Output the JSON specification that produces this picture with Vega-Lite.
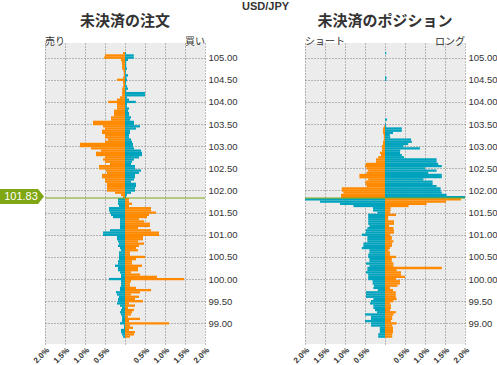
{
  "$schema": "https://vega.github.io/schema/vega-lite/v6.json",
  "background": "white",
  "padding": 0,
  "autosize": {"type": "pad"},
  "title": {"text": "USD/JPY", "font": "Liberation Sans", "fontSize": 11, "fontWeight": "bold", "color": "#333333", "anchor": "middle", "frame": "bounds", "dx": 17, "offset": 2},
  "spacing": 100,
  "bounds": "flush",
  "config": {
    "view": {"fill": "#ececec", "stroke": null},
    "axis": {"grid": true, "gridColor": "#7a7a7a", "gridOpacity": 1, "gridDash": [1, 2], "gridWidth": 1, "ticks": false, "domain": false, "labelFont": "Liberation Sans", "labelColor": "#333333", "labelOverlap": false, "labelBound": false},
    "axisX": {"labelOverlap": false, "labelFlush": false},
    "axisQuantitative": {"labelOverlap": false},
    "title": {"font": "Noto Sans CJK JP", "fontSize": 15, "fontWeight": "bold", "color": "#333333", "offset": 8}
  },
  "datasets": {
    "orders": [
      {"p":105.10,"v":-0.05,"k":"指値"},{"p":105.10,"v":0.025,"k":"逆指値"},
      {"p":105.05,"v":-0.5,"k":"指値"},{"p":105.05,"v":0.22,"k":"逆指値"},
      {"p":105.00,"v":-0.52,"k":"指値"},{"p":105.00,"v":0.22,"k":"逆指値"},
      {"p":104.95,"v":-0.1,"k":"指値"},{"p":104.95,"v":0.075,"k":"逆指値"},
      {"p":104.90,"v":-0.08,"k":"指値"},{"p":104.90,"v":0.03,"k":"逆指値"},
      {"p":104.85,"v":-0.075,"k":"指値"},{"p":104.85,"v":0.03,"k":"逆指値"},
      {"p":104.80,"v":-0.075,"k":"指値"},{"p":104.80,"v":0.03,"k":"逆指値"},
      {"p":104.75,"v":-0.07,"k":"指値"},{"p":104.75,"v":0.05,"k":"逆指値"},
      {"p":104.70,"v":-0.04,"k":"指値"},{"p":104.70,"v":0.02,"k":"逆指値"},
      {"p":104.65,"v":-0.03,"k":"指値"},{"p":104.65,"v":0.02,"k":"逆指値"},
      {"p":104.60,"v":-0.03,"k":"指値"},{"p":104.60,"v":0.075,"k":"逆指値"},
      {"p":104.55,"v":-0.05,"k":"指値"},{"p":104.55,"v":0.04,"k":"逆指値"},
      {"p":104.50,"v":-0.2,"k":"指値"},{"p":104.50,"v":0.05,"k":"逆指値"},
      {"p":104.45,"v":-0.05,"k":"指値"},{"p":104.45,"v":0.03,"k":"逆指値"},
      {"p":104.40,"v":-0.04,"k":"指値"},{"p":104.40,"v":0.02,"k":"逆指値"},
      {"p":104.35,"v":-0.05,"k":"指値"},{"p":104.35,"v":0.05,"k":"逆指値"},
      {"p":104.30,"v":-0.07,"k":"指値"},{"p":104.30,"v":0.075,"k":"逆指値"},
      {"p":104.25,"v":-0.07,"k":"指値"},{"p":104.25,"v":0.03,"k":"逆指値"},
      {"p":104.20,"v":-0.07,"k":"指値"},{"p":104.20,"v":0.5,"k":"逆指値"},
      {"p":104.15,"v":-0.07,"k":"指値"},{"p":104.15,"v":0.5,"k":"逆指値"},
      {"p":104.10,"v":-0.125,"k":"指値"},{"p":104.10,"v":0.05,"k":"逆指値"},
      {"p":104.05,"v":-0.2,"k":"指値"},{"p":104.05,"v":0.1,"k":"逆指値"},
      {"p":104.00,"v":-0.42,"k":"指値"},{"p":104.00,"v":0.27,"k":"逆指値"},
      {"p":103.95,"v":-0.2,"k":"指値"},{"p":103.95,"v":0.05,"k":"逆指値"},
      {"p":103.90,"v":-0.2,"k":"指値"},{"p":103.90,"v":0.05,"k":"逆指値"},
      {"p":103.85,"v":-0.2,"k":"指値"},{"p":103.85,"v":0.1,"k":"逆指値"},
      {"p":103.80,"v":-0.275,"k":"指値"},{"p":103.80,"v":0.075,"k":"逆指値"},
      {"p":103.75,"v":-0.275,"k":"指値"},{"p":103.75,"v":0.1,"k":"逆指値"},
      {"p":103.70,"v":-0.275,"k":"指値"},{"p":103.70,"v":0.1,"k":"逆指値"},
      {"p":103.65,"v":-0.35,"k":"指値"},{"p":103.65,"v":0.15,"k":"逆指値"},
      {"p":103.60,"v":-0.35,"k":"指値"},{"p":103.60,"v":0.125,"k":"逆指値"},
      {"p":103.55,"v":-0.8,"k":"指値"},{"p":103.55,"v":0.225,"k":"逆指値"},
      {"p":103.50,"v":-0.8,"k":"指値"},{"p":103.50,"v":0.225,"k":"逆指値"},
      {"p":103.45,"v":-0.55,"k":"指値"},{"p":103.45,"v":0.375,"k":"逆指値"},
      {"p":103.40,"v":-0.5,"k":"指値"},{"p":103.40,"v":0.275,"k":"逆指値"},
      {"p":103.35,"v":-0.575,"k":"指値"},{"p":103.35,"v":0.125,"k":"逆指値"},
      {"p":103.30,"v":-0.575,"k":"指値"},{"p":103.30,"v":0.125,"k":"逆指値"},
      {"p":103.25,"v":-0.5,"k":"指値"},{"p":103.25,"v":0.1,"k":"逆指値"},
      {"p":103.20,"v":-0.5,"k":"指値"},{"p":103.20,"v":0.1,"k":"逆指値"},
      {"p":103.15,"v":-0.425,"k":"指値"},{"p":103.15,"v":0.15,"k":"逆指値"},
      {"p":103.10,"v":-0.5,"k":"指値"},{"p":103.10,"v":0.175,"k":"逆指値"},
      {"p":103.05,"v":-1.125,"k":"指値"},{"p":103.05,"v":0.2,"k":"逆指値"},
      {"p":103.00,"v":-1.125,"k":"指値"},{"p":103.00,"v":0.2,"k":"逆指値"},
      {"p":102.95,"v":-0.85,"k":"指値"},{"p":102.95,"v":0.225,"k":"逆指値"},
      {"p":102.90,"v":-0.6,"k":"指値"},{"p":102.90,"v":0.4,"k":"逆指値"},
      {"p":102.85,"v":-0.725,"k":"指値"},{"p":102.85,"v":0.425,"k":"逆指値"},
      {"p":102.80,"v":-0.725,"k":"指値"},{"p":102.80,"v":0.425,"k":"逆指値"},
      {"p":102.75,"v":-0.5,"k":"指値"},{"p":102.75,"v":0.35,"k":"逆指値"},
      {"p":102.70,"v":-0.55,"k":"指値"},{"p":102.70,"v":0.225,"k":"逆指値"},
      {"p":102.65,"v":-0.5,"k":"指値"},{"p":102.65,"v":0.175,"k":"逆指値"},
      {"p":102.60,"v":-0.375,"k":"指値"},{"p":102.60,"v":0.15,"k":"逆指値"},
      {"p":102.55,"v":-0.65,"k":"指値"},{"p":102.55,"v":0.25,"k":"逆指値"},
      {"p":102.50,"v":-0.65,"k":"指値"},{"p":102.50,"v":0.25,"k":"逆指値"},
      {"p":102.45,"v":-0.475,"k":"指値"},{"p":102.45,"v":0.4,"k":"逆指値"},
      {"p":102.40,"v":-0.45,"k":"指値"},{"p":102.40,"v":0.35,"k":"逆指値"},
      {"p":102.35,"v":-0.575,"k":"指値"},{"p":102.35,"v":0.25,"k":"逆指値"},
      {"p":102.30,"v":-0.575,"k":"指値"},{"p":102.30,"v":0.25,"k":"逆指値"},
      {"p":102.25,"v":-0.5,"k":"指値"},{"p":102.25,"v":0.225,"k":"逆指値"},
      {"p":102.20,"v":-0.5,"k":"指値"},{"p":102.20,"v":0.15,"k":"逆指値"},
      {"p":102.15,"v":-0.45,"k":"指値"},{"p":102.15,"v":0.275,"k":"逆指値"},
      {"p":102.10,"v":-0.45,"k":"指値"},{"p":102.10,"v":0.275,"k":"逆指値"},
      {"p":102.05,"v":-0.45,"k":"指値"},{"p":102.05,"v":0.25,"k":"逆指値"},
      {"p":102.00,"v":-0.45,"k":"指値"},{"p":102.00,"v":0.25,"k":"逆指値"},
      {"p":101.95,"v":-0.25,"k":"指値"},{"p":101.95,"v":0.15,"k":"逆指値"},
      {"p":101.90,"v":-0.1,"k":"指値"},{"p":101.90,"v":0.05,"k":"逆指値"},
      {"p":101.85,"v":-0.05,"k":"指値"},{"p":101.85,"v":0.03,"k":"逆指値"},
      {"p":101.80,"v":-0.175,"k":"逆指値"},{"p":101.80,"v":0.1,"k":"指値"},
      {"p":101.75,"v":-0.175,"k":"逆指値"},{"p":101.75,"v":0.1,"k":"指値"},
      {"p":101.70,"v":-0.175,"k":"逆指値"},{"p":101.70,"v":0.175,"k":"指値"},
      {"p":101.65,"v":-0.15,"k":"逆指値"},{"p":101.65,"v":0.1,"k":"指値"},
      {"p":101.60,"v":-0.4,"k":"逆指値"},{"p":101.60,"v":0.65,"k":"指値"},
      {"p":101.55,"v":-0.4,"k":"逆指値"},{"p":101.55,"v":0.65,"k":"指値"},
      {"p":101.50,"v":-0.375,"k":"逆指値"},{"p":101.50,"v":0.775,"k":"指値"},
      {"p":101.45,"v":-0.35,"k":"逆指値"},{"p":101.45,"v":0.6,"k":"指値"},
      {"p":101.40,"v":-0.3,"k":"逆指値"},{"p":101.40,"v":0.55,"k":"指値"},
      {"p":101.35,"v":-0.125,"k":"逆指値"},{"p":101.35,"v":0.35,"k":"指値"},
      {"p":101.30,"v":-0.125,"k":"逆指値"},{"p":101.30,"v":0.475,"k":"指値"},
      {"p":101.25,"v":-0.125,"k":"逆指値"},{"p":101.25,"v":0.625,"k":"指値"},
      {"p":101.20,"v":-0.125,"k":"逆指値"},{"p":101.20,"v":0.625,"k":"指値"},
      {"p":101.15,"v":-0.125,"k":"逆指値"},{"p":101.15,"v":0.325,"k":"指値"},
      {"p":101.10,"v":-0.375,"k":"逆指値"},{"p":101.10,"v":0.65,"k":"指値"},
      {"p":101.05,"v":-0.55,"k":"逆指値"},{"p":101.05,"v":0.85,"k":"指値"},
      {"p":101.00,"v":-0.55,"k":"逆指値"},{"p":101.00,"v":0.85,"k":"指値"},
      {"p":100.95,"v":-0.2,"k":"逆指値"},{"p":100.95,"v":0.45,"k":"指値"},
      {"p":100.90,"v":-0.2,"k":"逆指値"},{"p":100.90,"v":0.45,"k":"指値"},
      {"p":100.85,"v":-0.175,"k":"逆指値"},{"p":100.85,"v":0.325,"k":"指値"},
      {"p":100.80,"v":-0.15,"k":"逆指値"},{"p":100.80,"v":0.475,"k":"指値"},
      {"p":100.75,"v":-0.175,"k":"逆指値"},{"p":100.75,"v":0.35,"k":"指値"},
      {"p":100.70,"v":-0.125,"k":"逆指値"},{"p":100.70,"v":0.275,"k":"指値"},
      {"p":100.65,"v":-0.1,"k":"逆指値"},{"p":100.65,"v":0.325,"k":"指値"},
      {"p":100.60,"v":-0.15,"k":"逆指値"},{"p":100.60,"v":0.125,"k":"指値"},
      {"p":100.55,"v":-0.15,"k":"逆指値"},{"p":100.55,"v":0.125,"k":"指値"},
      {"p":100.50,"v":-0.15,"k":"逆指値"},{"p":100.50,"v":0.5,"k":"指値"},
      {"p":100.45,"v":-0.15,"k":"逆指値"},{"p":100.45,"v":0.275,"k":"指値"},
      {"p":100.40,"v":-0.175,"k":"逆指値"},{"p":100.40,"v":0.175,"k":"指値"},
      {"p":100.35,"v":-0.175,"k":"逆指値"},{"p":100.35,"v":0.175,"k":"指値"},
      {"p":100.30,"v":-0.25,"k":"逆指値"},{"p":100.30,"v":0.425,"k":"指値"},
      {"p":100.25,"v":-0.175,"k":"逆指値"},{"p":100.25,"v":0.325,"k":"指値"},
      {"p":100.20,"v":-0.175,"k":"逆指値"},{"p":100.20,"v":0.325,"k":"指値"},
      {"p":100.15,"v":-0.125,"k":"逆指値"},{"p":100.15,"v":0.15,"k":"指値"},
      {"p":100.10,"v":-0.1,"k":"逆指値"},{"p":100.10,"v":0.375,"k":"指値"},
      {"p":100.05,"v":-0.1,"k":"逆指値"},{"p":100.05,"v":0.8,"k":"指値"},
      {"p":100.00,"v":-0.4,"k":"逆指値"},{"p":100.00,"v":1.475,"k":"指値"},
      {"p":99.95,"v":-0.1,"k":"逆指値"},{"p":99.95,"v":0.15,"k":"指値"},
      {"p":99.90,"v":-0.1,"k":"逆指値"},{"p":99.90,"v":0.125,"k":"指値"},
      {"p":99.85,"v":-0.1,"k":"逆指値"},{"p":99.85,"v":0.125,"k":"指値"},
      {"p":99.80,"v":-0.125,"k":"逆指値"},{"p":99.80,"v":0.275,"k":"指値"},
      {"p":99.75,"v":-0.125,"k":"逆指値"},{"p":99.75,"v":0.65,"k":"指値"},
      {"p":99.70,"v":-0.225,"k":"逆指値"},{"p":99.70,"v":0.375,"k":"指値"},
      {"p":99.65,"v":-0.2,"k":"逆指値"},{"p":99.65,"v":0.15,"k":"指値"},
      {"p":99.60,"v":-0.15,"k":"逆指値"},{"p":99.60,"v":0.35,"k":"指値"},
      {"p":99.55,"v":-0.175,"k":"逆指値"},{"p":99.55,"v":0.25,"k":"指値"},
      {"p":99.50,"v":-0.175,"k":"逆指値"},{"p":99.50,"v":0.45,"k":"指値"},
      {"p":99.45,"v":-0.2,"k":"逆指値"},{"p":99.45,"v":0.1,"k":"指値"},
      {"p":99.40,"v":-0.125,"k":"逆指値"},{"p":99.40,"v":0.25,"k":"指値"},
      {"p":99.35,"v":-0.075,"k":"逆指値"},{"p":99.35,"v":0.075,"k":"指値"},
      {"p":99.30,"v":-0.1,"k":"逆指値"},{"p":99.30,"v":0.225,"k":"指値"},
      {"p":99.25,"v":-0.125,"k":"逆指値"},{"p":99.25,"v":0.175,"k":"指値"},
      {"p":99.20,"v":-0.1,"k":"逆指値"},{"p":99.20,"v":0.15,"k":"指値"},
      {"p":99.15,"v":-0.075,"k":"逆指値"},{"p":99.15,"v":0.075,"k":"指値"},
      {"p":99.10,"v":-0.075,"k":"逆指値"},{"p":99.10,"v":0.375,"k":"指値"},
      {"p":99.05,"v":-0.075,"k":"逆指値"},{"p":99.05,"v":0.1,"k":"指値"},
      {"p":99.00,"v":-0.125,"k":"逆指値"},{"p":99.00,"v":1.1,"k":"指値"},
      {"p":98.95,"v":-0.025,"k":"逆指値"},{"p":98.95,"v":0.125,"k":"指値"},
      {"p":98.90,"v":-0.025,"k":"逆指値"},{"p":98.90,"v":0.2,"k":"指値"},
      {"p":98.85,"v":-0.1,"k":"逆指値"},{"p":98.85,"v":0.1,"k":"指値"},
      {"p":98.80,"v":-0.1,"k":"逆指値"},{"p":98.80,"v":0.25,"k":"指値"},
      {"p":98.75,"v":-0.075,"k":"逆指値"},{"p":98.75,"v":0.225,"k":"指値"},
      {"p":98.70,"v":-0.05,"k":"逆指値"},{"p":98.70,"v":0.125,"k":"指値"}
    ],
    "positions": [
      {"p":105.10,"v":0.03,"k":"含み損"},
      {"p":104.55,"v":0.04,"k":"含み損"},
      {"p":104.50,"v":0.03,"k":"含み損"},
      {"p":103.60,"v":0.05,"k":"含み損"},
      {"p":103.50,"v":0.02,"k":"含み損"},
      {"p":103.45,"v":-0.02,"k":"含み益"},{"p":103.45,"v":0.03,"k":"含み損"},
      {"p":103.40,"v":-0.05,"k":"含み益"},{"p":103.40,"v":0.42,"k":"含み損"},
      {"p":103.35,"v":-0.05,"k":"含み益"},{"p":103.35,"v":0.42,"k":"含み損"},
      {"p":103.30,"v":-0.05,"k":"含み益"},{"p":103.30,"v":0.2,"k":"含み損"},
      {"p":103.25,"v":-0.03,"k":"含み益"},{"p":103.25,"v":0.12,"k":"含み損"},
      {"p":103.20,"v":-0.03,"k":"含み益"},{"p":103.20,"v":0.13,"k":"含み損"},
      {"p":103.15,"v":-0.03,"k":"含み益"},{"p":103.15,"v":0.65,"k":"含み損"},
      {"p":103.10,"v":-0.05,"k":"含み益"},{"p":103.10,"v":0.67,"k":"含み損"},
      {"p":103.05,"v":-0.05,"k":"含み益"},{"p":103.05,"v":0.58,"k":"含み損"},
      {"p":103.00,"v":-0.075,"k":"含み益"},{"p":103.00,"v":0.46,"k":"含み損"},
      {"p":102.95,"v":-0.075,"k":"含み益"},{"p":102.95,"v":0.875,"k":"含み損"},
      {"p":102.90,"v":-0.075,"k":"含み益"},{"p":102.90,"v":0.38,"k":"含み損"},
      {"p":102.85,"v":-0.125,"k":"含み益"},{"p":102.85,"v":0.375,"k":"含み損"},
      {"p":102.80,"v":-0.1,"k":"含み益"},{"p":102.80,"v":0.42,"k":"含み損"},
      {"p":102.75,"v":-0.17,"k":"含み益"},{"p":102.75,"v":0.475,"k":"含み損"},
      {"p":102.70,"v":-0.225,"k":"含み益"},{"p":102.70,"v":1.29,"k":"含み損"},
      {"p":102.65,"v":-0.225,"k":"含み益"},{"p":102.65,"v":1.29,"k":"含み損"},
      {"p":102.60,"v":-0.475,"k":"含み益"},{"p":102.60,"v":1.33,"k":"含み損"},
      {"p":102.55,"v":-0.5,"k":"含み益"},{"p":102.55,"v":1.42,"k":"含み損"},
      {"p":102.50,"v":-0.46,"k":"含み益"},{"p":102.50,"v":1.0,"k":"含み損"},
      {"p":102.45,"v":-0.42,"k":"含み益"},{"p":102.45,"v":1.29,"k":"含み損"},
      {"p":102.40,"v":-0.46,"k":"含み益"},{"p":102.40,"v":1.08,"k":"含み損"},
      {"p":102.35,"v":-0.64,"k":"含み益"},{"p":102.35,"v":1.42,"k":"含み損"},
      {"p":102.30,"v":-0.64,"k":"含み益"},{"p":102.30,"v":1.42,"k":"含み損"},
      {"p":102.25,"v":-0.42,"k":"含み益"},{"p":102.25,"v":0.96,"k":"含み損"},
      {"p":102.20,"v":-0.49,"k":"含み益"},{"p":102.20,"v":1.19,"k":"含み損"},
      {"p":102.15,"v":-0.49,"k":"含み益"},{"p":102.15,"v":1.19,"k":"含み損"},
      {"p":102.10,"v":-0.46,"k":"含み益"},{"p":102.10,"v":1.29,"k":"含み損"},
      {"p":102.05,"v":-1.08,"k":"含み益"},{"p":102.05,"v":1.39,"k":"含み損"},
      {"p":102.00,"v":-1.08,"k":"含み益"},{"p":102.00,"v":1.39,"k":"含み損"},
      {"p":101.95,"v":-1.04,"k":"含み益"},{"p":101.95,"v":1.42,"k":"含み損"},
      {"p":101.90,"v":-1.1,"k":"含み益"},{"p":101.90,"v":1.54,"k":"含み損"},
      {"p":101.85,"v":-1.1,"k":"含み益"},{"p":101.85,"v":2.0,"k":"含み損"},
      {"p":101.80,"v":-2.0,"k":"含み損"},{"p":101.80,"v":1.9,"k":"含み益"},
      {"p":101.75,"v":-1.625,"k":"含み損"},{"p":101.75,"v":1.525,"k":"含み益"},
      {"p":101.70,"v":-1.125,"k":"含み損"},{"p":101.70,"v":1.04,"k":"含み益"},
      {"p":101.65,"v":-0.79,"k":"含み損"},{"p":101.65,"v":0.59,"k":"含み益"},
      {"p":101.60,"v":-0.3,"k":"含み損"},{"p":101.60,"v":0.14,"k":"含み益"},
      {"p":101.55,"v":-0.3,"k":"含み損"},{"p":101.55,"v":0.14,"k":"含み益"},
      {"p":101.50,"v":-0.19,"k":"含み損"},{"p":101.50,"v":0.125,"k":"含み益"},
      {"p":101.45,"v":-0.42,"k":"含み損"},{"p":101.45,"v":0.275,"k":"含み益"},
      {"p":101.40,"v":-0.42,"k":"含み損"},{"p":101.40,"v":0.08,"k":"含み益"},
      {"p":101.35,"v":-0.42,"k":"含み損"},{"p":101.35,"v":0.08,"k":"含み益"},
      {"p":101.30,"v":-0.42,"k":"含み損"},{"p":101.30,"v":0.225,"k":"含み益"},
      {"p":101.25,"v":-0.42,"k":"含み損"},{"p":101.25,"v":0.225,"k":"含み益"},
      {"p":101.20,"v":-0.39,"k":"含み損"},{"p":101.20,"v":0.1,"k":"含み益"},
      {"p":101.15,"v":-0.44,"k":"含み損"},{"p":101.15,"v":0.21,"k":"含み益"},
      {"p":101.10,"v":-0.48,"k":"含み損"},{"p":101.10,"v":0.225,"k":"含み益"},
      {"p":101.05,"v":-0.48,"k":"含み損"},{"p":101.05,"v":0.225,"k":"含み益"},
      {"p":101.00,"v":-0.58,"k":"含み損"},{"p":101.00,"v":0.125,"k":"含み益"},
      {"p":100.95,"v":-0.44,"k":"含み損"},{"p":100.95,"v":0.17,"k":"含み益"},
      {"p":100.90,"v":-0.44,"k":"含み損"},{"p":100.90,"v":0.17,"k":"含み益"},
      {"p":100.85,"v":-0.44,"k":"含み損"},{"p":100.85,"v":0.21,"k":"含み益"},
      {"p":100.80,"v":-0.54,"k":"含み損"},{"p":100.80,"v":0.175,"k":"含み益"},
      {"p":100.75,"v":-0.54,"k":"含み損"},{"p":100.75,"v":0.175,"k":"含み益"},
      {"p":100.70,"v":-0.58,"k":"含み損"},{"p":100.70,"v":0.125,"k":"含み益"},
      {"p":100.65,"v":-0.39,"k":"含み損"},{"p":100.65,"v":0.09,"k":"含み益"},
      {"p":100.60,"v":-0.39,"k":"含み損"},{"p":100.60,"v":0.125,"k":"含み益"},
      {"p":100.55,"v":-0.42,"k":"含み損"},{"p":100.55,"v":0.125,"k":"含み益"},
      {"p":100.50,"v":-0.42,"k":"含み損"},{"p":100.50,"v":0.275,"k":"含み益"},
      {"p":100.45,"v":-0.39,"k":"含み損"},{"p":100.45,"v":0.17,"k":"含み益"},
      {"p":100.40,"v":-0.39,"k":"含み損"},{"p":100.40,"v":0.17,"k":"含み益"},
      {"p":100.35,"v":-0.475,"k":"含み損"},{"p":100.35,"v":0.21,"k":"含み益"},
      {"p":100.30,"v":-0.39,"k":"含み損"},{"p":100.30,"v":0.21,"k":"含み益"},
      {"p":100.25,"v":-0.44,"k":"含み損"},{"p":100.25,"v":1.42,"k":"含み益"},
      {"p":100.20,"v":-0.44,"k":"含み損"},{"p":100.20,"v":0.29,"k":"含み益"},
      {"p":100.15,"v":-0.475,"k":"含み損"},{"p":100.15,"v":0.4,"k":"含み益"},
      {"p":100.10,"v":-0.42,"k":"含み損"},{"p":100.10,"v":0.4,"k":"含み益"},
      {"p":100.05,"v":-0.42,"k":"含み損"},{"p":100.05,"v":0.5,"k":"含み益"},
      {"p":100.00,"v":-0.42,"k":"含み損"},{"p":100.00,"v":0.275,"k":"含み益"},
      {"p":99.95,"v":-0.31,"k":"含み損"},{"p":99.95,"v":0.375,"k":"含み益"},
      {"p":99.90,"v":-0.31,"k":"含み損"},{"p":99.90,"v":0.375,"k":"含み益"},
      {"p":99.85,"v":-0.275,"k":"含み損"},{"p":99.85,"v":0.31,"k":"含み益"},
      {"p":99.80,"v":-0.29,"k":"含み損"},{"p":99.80,"v":0.125,"k":"含み益"},
      {"p":99.75,"v":-0.18,"k":"含み損"},{"p":99.75,"v":0.2,"k":"含み益"},
      {"p":99.70,"v":-0.475,"k":"含み損"},{"p":99.70,"v":0.27,"k":"含み益"},
      {"p":99.65,"v":-0.475,"k":"含み損"},{"p":99.65,"v":0.27,"k":"含み益"},
      {"p":99.60,"v":-0.475,"k":"含み損"},{"p":99.60,"v":0.27,"k":"含み益"},
      {"p":99.55,"v":-0.29,"k":"含み損"},{"p":99.55,"v":0.29,"k":"含み益"},
      {"p":99.50,"v":-0.35,"k":"含み損"},{"p":99.50,"v":0.21,"k":"含み益"},
      {"p":99.45,"v":-0.375,"k":"含み損"},{"p":99.45,"v":0.13,"k":"含み益"},
      {"p":99.40,"v":-0.29,"k":"含み損"},{"p":99.40,"v":0.15,"k":"含み益"},
      {"p":99.35,"v":-0.29,"k":"含み損"},{"p":99.35,"v":0.15,"k":"含み益"},
      {"p":99.30,"v":-0.25,"k":"含み損"},{"p":99.30,"v":0.125,"k":"含み益"},
      {"p":99.25,"v":-0.2,"k":"含み損"},{"p":99.25,"v":0.27,"k":"含み益"},
      {"p":99.20,"v":-0.5,"k":"含み損"},{"p":99.20,"v":0.21,"k":"含み益"},
      {"p":99.15,"v":-0.35,"k":"含み損"},{"p":99.15,"v":0.18,"k":"含み益"},
      {"p":99.10,"v":-0.35,"k":"含み損"},{"p":99.10,"v":0.18,"k":"含み益"},
      {"p":99.05,"v":-0.5,"k":"含み損"},{"p":99.05,"v":0.15,"k":"含み益"},
      {"p":99.00,"v":-0.35,"k":"含み損"},{"p":99.00,"v":0.29,"k":"含み益"},
      {"p":98.95,"v":-0.35,"k":"含み損"},{"p":98.95,"v":0.18,"k":"含み益"},
      {"p":98.90,"v":-0.13,"k":"含み損"},{"p":98.90,"v":0.2,"k":"含み益"},
      {"p":98.85,"v":-0.13,"k":"含み損"},{"p":98.85,"v":0.2,"k":"含み益"},
      {"p":98.80,"v":-0.13,"k":"含み損"},{"p":98.80,"v":0.2,"k":"含み益"},
      {"p":98.75,"v":-0.17,"k":"含み損"},{"p":98.75,"v":0.18,"k":"含み益"},
      {"p":98.70,"v":-0.17,"k":"含み損"},{"p":98.70,"v":0.18,"k":"含み益"}
    ]
  },
  "hconcat": [
    {
      "width": 160,
      "height": 301,
      "title": {"text": "未決済の注文"},
      "layer": [
        {
          "data": {"name": "orders"},
          "mark": {"type": "bar", "orient": "horizontal", "height": 2.3},
          "encoding": {
            "y": {"field": "p", "type": "quantitative", "scale": {"domain": [98.646, 105.218], "nice": false, "zero": false},
                  "axis": {"orient": "right", "values": [99, 99.5, 100, 100.5, 101, 101.5, 102, 102.5, 103, 103.5, 104, 104.5, 105], "format": ".2f", "labelFontSize": 9.5, "labelPadding": 3, "labelOverlap": false, "title": null}},
            "x": {"field": "v", "type": "quantitative", "scale": {"domain": [-2, 2], "nice": false},
                  "axis": {"orient": "bottom", "values": [-2, -1.5, -1, -0.5, 0, 0.5, 1, 1.5, 2], "labelExpr": "datum.value == 0 ? '' : format(abs(datum.value), '.1f') + '%'", "labelAngle": -45, "labelFontSize": 8, "labelFontWeight": "bold", "labelPadding": 2, "labelOverlap": false, "labelFlush": false, "title": null}},
            "x2": {"datum": 0},
            "color": {"field": "k", "type": "nominal", "scale": {"domain": ["指値", "逆指値", "含み益", "含み損"], "range": ["#ff8a00", "#00a3bd", "#ff8a00", "#00a3bd"]}, "legend": null}
          }
        },
        {
          "data": {"values": [{}]},
          "mark": {"type": "rule", "color": "#7fa614", "strokeWidth": 1},
          "encoding": {"y": {"datum": 101.83, "type": "quantitative", "axis": {"orient": "right", "values": [99, 99.5, 100, 100.5, 101, 101.5, 102, 102.5, 103, 103.5, 104, 104.5, 105], "format": ".2f", "labelFontSize": 9.5, "labelPadding": 3, "labelOverlap": false, "title": null}}}
        },
        {
          "data": {"values": [{}]},
          "mark": {"type": "point", "shape": "M-45,-9L-7,-9L-1,-1.5L-7,6L-45,6Z", "size": 4, "filled": true, "color": "#7fa614", "opacity": 1, "strokeWidth": 0},
          "encoding": {
            "x": {"datum": -2, "type": "quantitative", "axis": {"orient": "bottom", "values": [-2, -1.5, -1, -0.5, 0, 0.5, 1, 1.5, 2], "labelExpr": "datum.value == 0 ? '' : format(abs(datum.value), '.1f') + '%'", "labelAngle": -45, "labelFontSize": 8, "labelFontWeight": "bold", "labelPadding": 2, "labelOverlap": false, "labelFlush": false, "title": null}},
            "y": {"datum": 101.83, "type": "quantitative", "axis": {"orient": "right", "values": [99, 99.5, 100, 100.5, 101, 101.5, 102, 102.5, 103, 103.5, 104, 104.5, 105], "format": ".2f", "labelFontSize": 9.5, "labelPadding": 3, "labelOverlap": false, "title": null}}
          }
        },
        {
          "data": {"values": [{}]},
          "mark": {"type": "text", "text": "101.83", "dx": -24, "dy": -1.5, "color": "white", "font": "Liberation Sans", "fontSize": 11, "align": "center", "baseline": "middle"},
          "encoding": {
            "x": {"datum": -2, "type": "quantitative", "axis": {"orient": "bottom", "values": [-2, -1.5, -1, -0.5, 0, 0.5, 1, 1.5, 2], "labelExpr": "datum.value == 0 ? '' : format(abs(datum.value), '.1f') + '%'", "labelAngle": -45, "labelFontSize": 8, "labelFontWeight": "bold", "labelPadding": 2, "labelOverlap": false, "labelFlush": false, "title": null}},
            "y": {"datum": 101.83, "type": "quantitative", "axis": {"orient": "right", "values": [99, 99.5, 100, 100.5, 101, 101.5, 102, 102.5, 103, 103.5, 104, 104.5, 105], "format": ".2f", "labelFontSize": 9.5, "labelPadding": 3, "labelOverlap": false, "title": null}}
          }
        },
        {
          "data": {"values": [{}]},
          "mark": {"type": "text", "text": "売り", "align": "left", "baseline": "bottom", "dy": -1, "color": "#333333", "font": "Noto Sans CJK JP", "fontSize": 10},
          "encoding": {
            "x": {"datum": -2, "type": "quantitative", "axis": {"orient": "bottom", "values": [-2, -1.5, -1, -0.5, 0, 0.5, 1, 1.5, 2], "labelExpr": "datum.value == 0 ? '' : format(abs(datum.value), '.1f') + '%'", "labelAngle": -45, "labelFontSize": 8, "labelFontWeight": "bold", "labelPadding": 2, "labelOverlap": false, "labelFlush": false, "title": null}},
            "y": {"datum": 105.218, "type": "quantitative", "axis": {"orient": "right", "values": [99, 99.5, 100, 100.5, 101, 101.5, 102, 102.5, 103, 103.5, 104, 104.5, 105], "format": ".2f", "labelFontSize": 9.5, "labelPadding": 3, "labelOverlap": false, "title": null}}
          }
        },
        {
          "data": {"values": [{}]},
          "mark": {"type": "text", "text": "買い", "align": "right", "baseline": "bottom", "dy": -1, "color": "#333333", "font": "Noto Sans CJK JP", "fontSize": 10},
          "encoding": {
            "x": {"datum": 2, "type": "quantitative", "axis": {"orient": "bottom", "values": [-2, -1.5, -1, -0.5, 0, 0.5, 1, 1.5, 2], "labelExpr": "datum.value == 0 ? '' : format(abs(datum.value), '.1f') + '%'", "labelAngle": -45, "labelFontSize": 8, "labelFontWeight": "bold", "labelPadding": 2, "labelOverlap": false, "labelFlush": false, "title": null}},
            "y": {"datum": 105.218, "type": "quantitative", "axis": {"orient": "right", "values": [99, 99.5, 100, 100.5, 101, 101.5, 102, 102.5, 103, 103.5, 104, 104.5, 105], "format": ".2f", "labelFontSize": 9.5, "labelPadding": 3, "labelOverlap": false, "title": null}}
          }
        }
      ]
    },
    {
      "width": 160,
      "height": 301,
      "title": {"text": "未決済のポジション"},
      "layer": [
        {
          "data": {"name": "positions"},
          "mark": {"type": "bar", "orient": "horizontal", "height": 2.3},
          "encoding": {
            "y": {"field": "p", "type": "quantitative", "scale": {"domain": [98.646, 105.218], "nice": false, "zero": false},
                  "axis": {"orient": "right", "values": [99, 99.5, 100, 100.5, 101, 101.5, 102, 102.5, 103, 103.5, 104, 104.5, 105], "format": ".2f", "labelFontSize": 9.5, "labelPadding": 3, "labelOverlap": false, "title": null}},
            "x": {"field": "v", "type": "quantitative", "scale": {"domain": [-2, 2], "nice": false},
                  "axis": {"orient": "bottom", "values": [-2, -1.5, -1, -0.5, 0, 0.5, 1, 1.5, 2], "labelExpr": "datum.value == 0 ? '' : format(abs(datum.value), '.1f') + '%'", "labelAngle": -45, "labelFontSize": 8, "labelFontWeight": "bold", "labelPadding": 2, "labelOverlap": false, "labelFlush": false, "title": null}},
            "x2": {"datum": 0},
            "color": {"field": "k", "type": "nominal", "scale": {"domain": ["指値", "逆指値", "含み益", "含み損"], "range": ["#ff8a00", "#00a3bd", "#ff8a00", "#00a3bd"]}, "legend": null}
          }
        },
        {
          "data": {"values": [{}]},
          "mark": {"type": "rule", "color": "#7fa614", "strokeWidth": 1},
          "encoding": {"y": {"datum": 101.83, "type": "quantitative", "axis": {"orient": "right", "values": [99, 99.5, 100, 100.5, 101, 101.5, 102, 102.5, 103, 103.5, 104, 104.5, 105], "format": ".2f", "labelFontSize": 9.5, "labelPadding": 3, "labelOverlap": false, "title": null}}}
        },
        {
          "data": {"values": [{}]},
          "mark": {"type": "text", "text": "ショート", "align": "left", "baseline": "bottom", "dy": -1, "color": "#333333", "font": "Noto Sans CJK JP", "fontSize": 10},
          "encoding": {
            "x": {"datum": -2, "type": "quantitative", "axis": {"orient": "bottom", "values": [-2, -1.5, -1, -0.5, 0, 0.5, 1, 1.5, 2], "labelExpr": "datum.value == 0 ? '' : format(abs(datum.value), '.1f') + '%'", "labelAngle": -45, "labelFontSize": 8, "labelFontWeight": "bold", "labelPadding": 2, "labelOverlap": false, "labelFlush": false, "title": null}},
            "y": {"datum": 105.218, "type": "quantitative", "axis": {"orient": "right", "values": [99, 99.5, 100, 100.5, 101, 101.5, 102, 102.5, 103, 103.5, 104, 104.5, 105], "format": ".2f", "labelFontSize": 9.5, "labelPadding": 3, "labelOverlap": false, "title": null}}
          }
        },
        {
          "data": {"values": [{}]},
          "mark": {"type": "text", "text": "ロング", "align": "right", "baseline": "bottom", "dy": -1, "color": "#333333", "font": "Noto Sans CJK JP", "fontSize": 10},
          "encoding": {
            "x": {"datum": 2, "type": "quantitative", "axis": {"orient": "bottom", "values": [-2, -1.5, -1, -0.5, 0, 0.5, 1, 1.5, 2], "labelExpr": "datum.value == 0 ? '' : format(abs(datum.value), '.1f') + '%'", "labelAngle": -45, "labelFontSize": 8, "labelFontWeight": "bold", "labelPadding": 2, "labelOverlap": false, "labelFlush": false, "title": null}},
            "y": {"datum": 105.218, "type": "quantitative", "axis": {"orient": "right", "values": [99, 99.5, 100, 100.5, 101, 101.5, 102, 102.5, 103, 103.5, 104, 104.5, 105], "format": ".2f", "labelFontSize": 9.5, "labelPadding": 3, "labelOverlap": false, "title": null}}
          }
        }
      ]
    }
  ]
}
